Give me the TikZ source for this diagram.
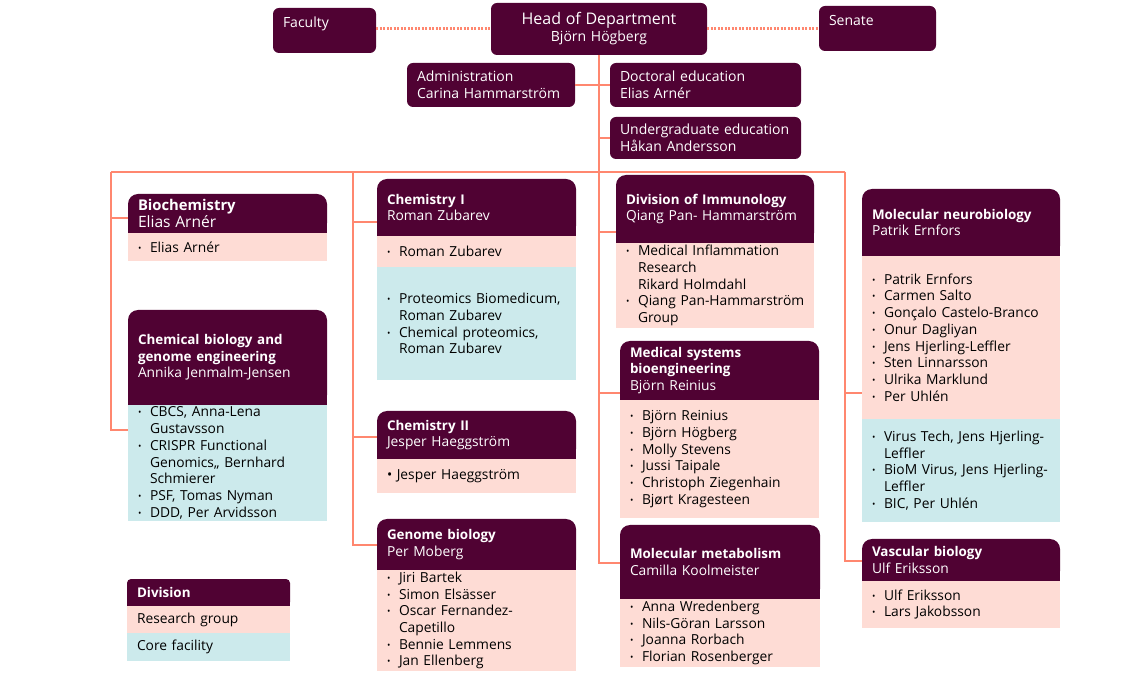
\documentclass[tikz,border=0pt]{standalone}
\usepackage{fontspec}
\setmainfont{Open Sans}
\usetikzlibrary{positioning,backgrounds}
\definecolor{kiplum}{RGB}{80,2,51}
\definecolor{kiorange}{RGB}{255,135,111}
\definecolor{kipink}{RGB}{254,220,213}
\definecolor{kiblue}{RGB}{204,234,236}
\newcommand{\bodyfont}{\fontsize{13.8}{16.7}\selectfont}
\newcommand{\hdrfont}{\fontsize{13.8}{16.7}\selectfont}
\newcommand{\topfont}{\fontsize{14}{17}\selectfont}
\newcommand{\hd}[1]{{\fontsize{13.4}{16.7}\selectfont\bfseries #1}}
\newcommand{\grp}[1]{\noindent\hangindent=12pt\hangafter=1\hbox to 12pt{\raisebox{1pt}{\fontsize{9}{9}\selectfont\textbullet}\hss}#1\par}
\begin{document}
\begin{tikzpicture}[x=1pt,y=-1pt]
\tikzstyle{every node}=[font=\bodyfont, outer sep=0pt, inner ysep=2pt, inner xsep=10pt, align=left, anchor=north west]
\tikzstyle{topbox}=[fill=kiplum, text=white, rounded corners=6pt, font=\topfont]
\tikzstyle{hdr}=[fill=kiplum, text=white, rounded corners=10pt, font=\hdrfont]
\tikzstyle{grp}=[fill=kipink]
\tikzstyle{core}=[fill=kiblue]
\tikzstyle{link}=[kiorange, line width=2.5pt]
\tikzstyle{dots}=[kiorange, line width=3pt, dash pattern=on 2pt off 1.5pt]
\tikzset{wd/.code={\pgfmathsetmacro\tw{#1-20}\tikzset{minimum width=#1pt, text width=\tw pt}}}
\useasboundingbox (0,0) rectangle (1128,692);

	\node[topbox, wd=103, minimum height=45pt] (fac) at (273,8) {Faculty\\\mbox{}};
	\node[topbox, wd=216, minimum height=52pt, align=center] (hod) at (491,3) {{\fontsize{16}{18}\selectfont Head of Department}\\Björn Högberg};
	\node[topbox, wd=117, minimum height=45pt] (sen) at (819,6) {Senate\\\mbox{}};
	\node[topbox, wd=168, minimum height=44pt] (adm) at (407,63) {Administration\\Carina Hammarström};
	\node[topbox, wd=191, minimum height=44pt] (doc) at (610,63) {Doctoral education\\Elias Arnér};
	\node[topbox, wd=191, minimum height=42pt] (ug) at (610,117) {Undergraduate education\\Håkan Andersson};

	\draw[dots] (hod.west -| fac.east) -- (hod.west);
	\draw[dots] (hod.east) -- (hod.east -| sen.west);
	\draw[link] (adm.east) -- (doc.west);
	\draw[link] (ug.west) -- (ug.west -| hod.south);

	\node[hdr, wd=199, minimum height=39pt] (bio) at (128,194) {{\fontsize{14.8}{19}\selectfont\bfseries Biochemistry}\\{\fontsize{15.6}{19}\selectfont Elias Arnér}};
	\node[grp, wd=199, minimum height=28pt, below right=0pt and 0pt of bio.south west] (bioP) {\grp{Elias Arnér}};
	\node[hdr, wd=199, minimum height=95pt] (cbge) at (128,310) {\hd{Chemical biology and}\\\hd{genome engineering}\\Annika Jenmalm-Jensen};
	\node[core, wd=199, minimum height=114pt, below right=0pt and 0pt of cbge.south west] (cbgeC) {\grp{CBCS, Anna-Lena\newline Gustavsson}\grp{CRISPR Functional\newline Genomics,, Bernhard\newline Schmierer}\grp{PSF, Tomas Nyman}\grp{DDD, Per Arvidsson}};

	\node[hdr, wd=199, minimum height=57pt] (ch1) at (377,179) {\hd{Chemistry I}\\Roman Zubarev};
	\node[grp, wd=199, minimum height=31pt, below right=0pt and 0pt of ch1.south west] (ch1P) {\grp{Roman Zubarev}};
	\node[core, wd=199, minimum height=113pt, below right=0pt and 0pt of ch1P.south west] (ch1C) {\grp{Proteomics Biomedicum,\newline Roman Zubarev}\grp{Chemical proteomics,\newline Roman Zubarev}};
	\node[hdr, wd=199, minimum height=48pt] (ch2) at (377,411) {\hd{Chemistry II}\\Jesper Haeggström};
	\node[grp, wd=199, minimum height=34pt, below right=0pt and 0pt of ch2.south west] (ch2P) {\textbullet{} Jesper Haeggström};
	\node[hdr, wd=199, minimum height=51pt] (gen) at (377,519) {\hd{Genome biology}\\Per Moberg};
	\node[grp, wd=199, minimum height=99pt, below right=0pt and 0pt of gen.south west] (genP) {\grp{Jiri Bartek}\grp{Simon Elsässer}\grp{Oscar Fernandez-\newline Capetillo}\grp{Bennie Lemmens}\grp{Jan Ellenberg}};

	\node[hdr, wd=198, minimum height=68pt] (imm) at (616,175) {\hd{Division of Immunology}\\Qiang Pan- Hammarström};
	\node[grp, wd=198, minimum height=85pt, below right=0pt and 0pt of imm.south west] (immP) {\grp{Medical Inflammation\newline Research\newline Rikard Holmdahl}\grp{\mbox{Qiang Pan-Hammarström}\newline Group}};
	\node[hdr, wd=199, minimum height=59pt] (med) at (620,341) {\hd{Medical systems}\\\hd{bioengineering}\\Björn Reinius};
	\node[grp, wd=199, minimum height=118pt, below right=0pt and 0pt of med.south west] (medP) {\grp{Björn Reinius}\grp{Björn Högberg}\grp{Molly Stevens}\grp{Jussi Taipale}\grp{Christoph Ziegenhain}\grp{Bjørt Kragesteen}};
	\node[hdr, wd=200, minimum height=74pt] (met) at (620,525) {\hd{Molecular metabolism}\\Camilla Koolmeister};
	\node[grp, wd=200, minimum height=65pt, below right=0pt and 0pt of met.south west] (metP) {\grp{Anna Wredenberg}\grp{Nils-Göran Larsson}\grp{Joanna Rorbach}\grp{Florian Rosenberger}};

	\node[hdr, wd=198, minimum height=67pt] (neu) at (862,189) {\hd{Molecular neurobiology}\\Patrik Ernfors};
	\node[grp, wd=198, minimum height=163pt, below right=0pt and 0pt of neu.south west] (neuP) {\grp{Patrik Ernfors}\grp{Carmen Salto}\grp{Gonçalo Castelo-Branco}\grp{Onur Dagliyan}\grp{Jens Hjerling-Leffler}\grp{Sten Linnarsson}\grp{Ulrika Marklund}\grp{Per Uhlén}};
	\node[core, wd=198, minimum height=103pt, below right=0pt and 0pt of neuP.south west] (neuC) {\grp{Virus Tech, Jens Hjerling-\newline Leffler}\grp{BioM Virus, Jens Hjerling-\newline Leffler}\grp{BIC, Per Uhlén}};
	\node[hdr, wd=198, minimum height=42pt] (vas) at (862,539) {\hd{Vascular biology}\\Ulf Eriksson};
	\node[grp, wd=198, minimum height=47pt, below right=0pt and 0pt of vas.south west] (vasP) {\grp{Ulf Eriksson}\grp{Lars Jakobsson}};

	\node[hdr, rounded corners=4pt, inner xsep=7pt, wd=163, minimum height=27pt] (div) at (127,579) {\hd{Division}};
	\node[grp, inner xsep=7pt, wd=163, minimum height=27pt, below right=0pt and 0pt of div.south west] (res) {Research group};
	\node[core, inner xsep=7pt, wd=163, minimum height=28pt, below right=0pt and 0pt of res.south west] (cf) {Core facility};

	\coordinate (c1) at (111,172);
	\coordinate (c2) at (353,172);
	\coordinate (c4) at (845,172);
	\draw[link] (c1) -- (c4);
	\draw[link] (c1) |- ([yshift=-24pt]bio.north west);
	\draw[link] (c1) |- ([yshift=-25pt]cbgeC.north west);
	\draw[link] (c2) |- ([yshift=-43pt]ch1.north west);
	\draw[link] (c2) |- ([yshift=-26pt]ch2.north west);
	\draw[link] (c2) |- ([yshift=-26pt]gen.north west);
	\draw[link] (hod.south) |- ([yshift=-57pt]imm.north west);
	\draw[link] (hod.south) |- ([yshift=-52pt]med.north west);
	\draw[link] (hod.south) |- ([yshift=-38pt]met.north west);
	\draw[link] (c4) |- ([yshift=-137pt]neuP.north west);
	\draw[link] (c4) |- ([yshift=-22pt]vas.north west);

	\begin{pgfonlayer}{background}
	\foreach \n in {bio,cbge,ch1,ch2,gen,imm,med,met,neu,vas,div}{
		\fill[kiplum] ([yshift=11pt]\n.south west) rectangle (\n.south east);
	}
	\end{pgfonlayer}
\end{tikzpicture}
\end{document}
